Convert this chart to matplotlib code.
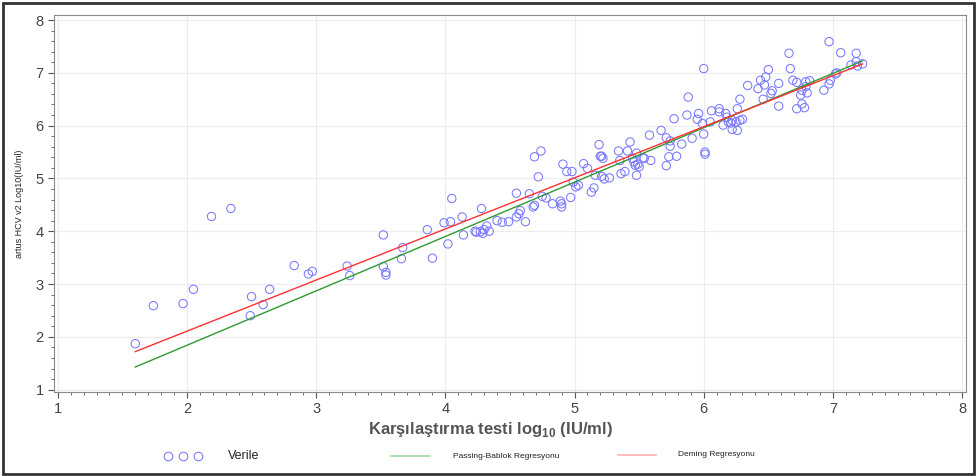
import matplotlib
matplotlib.use('Agg')
import matplotlib.pyplot as plt
from matplotlib.lines import Line2D
from matplotlib.patches import Rectangle
import numpy as np

plt.rcParams['font.family'] = ['Liberation Sans', 'DejaVu Sans']
plt.rcParams['mathtext.fontset'] = 'custom'
plt.rcParams['mathtext.rm'] = 'Liberation Sans'
plt.rcParams['mathtext.bf'] = 'Liberation Sans:bold'

# comparison test (x) vs artus HCV v2 (y), log10 IU/ml
x_low = [1.60, 1.74, 1.97, 2.05, 2.19, 2.34, 2.49, 2.50, 2.59, 2.64, 2.83, 2.94, 2.97, 3.24, 3.26,
         3.52, 3.52, 3.54, 3.54, 3.67, 3.66, 3.90, 4.02, 3.86, 4.14, 3.99, 4.04, 4.05, 4.13, 4.28,
         4.23, 4.24, 4.27, 4.29, 4.30, 4.32, 4.34, 4.40, 4.44, 4.49, 4.55, 4.65, 4.55, 4.57, 4.58, 4.62]
y_low = [1.87, 2.59, 2.63, 2.90, 4.28, 4.43, 2.40, 2.76, 2.61, 2.90, 3.35, 3.19, 3.24, 3.34, 3.16,
         3.93, 3.33, 3.22, 3.17, 3.69, 3.48, 3.49, 3.76, 4.03, 3.93, 4.16, 4.18, 4.62, 4.27, 4.43,
         4.00, 3.98, 3.99, 3.96, 4.03, 4.10, 4.00, 4.20, 4.17, 4.18, 4.72, 4.71, 4.27, 4.33, 4.39, 4.18]

x_mid = [4.69, 4.74, 4.72, 4.75, 4.78, 4.68, 4.69, 4.83, 4.89, 4.90, 4.90, 4.97, 4.91, 4.94, 4.98,
         4.99, 5.01, 5.03, 5.07, 5.10, 5.13, 5.15, 5.16, 5.19, 5.20, 5.21, 5.22, 5.21, 5.23, 5.27,
         5.34, 5.35, 5.36, 5.39, 5.43, 5.41, 5.48, 5.45, 5.46, 5.47, 5.49, 5.48, 5.50, 5.54, 5.58]
y_mid = [5.41, 5.52, 5.03, 4.66, 4.63, 4.46, 4.49, 4.52, 4.57, 4.52, 4.46, 4.64, 5.27, 5.13, 5.13,
         4.93, 4.84, 4.87, 5.28, 5.19, 4.74, 4.82, 5.06, 5.64, 5.42, 5.42, 5.38, 5.04, 4.99, 5.01,
         5.52, 5.34, 5.09, 5.13, 5.69, 5.52, 5.48, 5.38, 5.31, 5.25, 5.27, 5.06, 5.22, 5.38, 5.82]

x_upper = [6.00, 5.88, 5.77, 5.87, 5.96, 5.95, 5.99, 6.06, 6.05, 6.12, 6.12, 6.17, 6.18, 6.15, 6.19,
           6.22, 6.21, 6.25, 6.28, 6.30, 6.22, 6.26, 6.26, 6.28, 6.34, 6.42, 6.44, 6.47, 6.48, 6.46,
           5.67, 5.71, 5.74, 5.74, 5.83, 5.91, 6.00, 6.01, 6.01, 5.79, 5.73, 5.53, 5.59, 5.71]
y_upper = [7.08, 6.54, 6.13, 6.20, 6.23, 6.12, 6.04, 6.28, 6.07, 6.32, 6.26, 6.23, 6.16, 6.01, 6.07,
           6.10, 6.05, 6.07, 6.10, 6.12, 5.93, 5.91, 6.32, 6.50, 6.76, 6.70, 6.86, 6.77, 6.92, 6.50,
           5.91, 5.77, 5.71, 5.61, 5.65, 5.76, 5.84, 5.50, 5.46, 5.42, 5.41, 5.39, 5.34, 5.24]

x_top = [6.97, 7.06, 7.18, 6.66, 6.67, 6.50, 7.14, 7.18, 7.19, 7.23, 7.03, 7.02, 6.98, 6.97, 6.93,
         6.69, 6.72, 6.79, 6.82, 6.79, 6.76, 6.80, 6.75, 6.76, 6.72, 6.78, 6.58, 6.58, 6.53, 6.52]
y_top = [7.59, 7.38, 7.37, 7.37, 7.08, 7.06, 7.15, 7.21, 7.13, 7.17, 7.00, 6.98, 6.86, 6.79, 6.67,
         6.86, 6.82, 6.83, 6.85, 6.74, 6.67, 6.62, 6.58, 6.41, 6.32, 6.34, 6.37, 6.80, 6.66, 6.61]

# regression fits (intercept, slope)
pb_fit = (-0.22, 1.03)
deming_fit = (0.171, 0.968)

x_all = np.array(x_low + x_mid + x_upper + x_top)
y_all = np.array(y_low + y_mid + y_upper + y_top)

fig = plt.figure(figsize=(9.77, 4.76), dpi=100)
ax = fig.add_axes([54/977, 1 - 392/476, (966 - 54)/977, (392 - 15)/476])

ax.scatter(x_all, y_all, s=36, facecolors='none', edgecolors='#7878ff', linewidths=0.75, zorder=3)

xs = np.array([x_all.min(), x_all.max()])
ax.plot(xs, pb_fit[0] + pb_fit[1]*xs, color='#2f9a2f', linewidth=1.0, zorder=4)
ax.plot(xs, deming_fit[0] + deming_fit[1]*xs, color='#ff3030', linewidth=1.0, zorder=4)

ax.set_xlim(0.971, 8.03)
ax.set_ylim(0.955, 8.095)
ax.set_xticks(range(1, 9))
ax.set_yticks(range(1, 9))
ax.set_xticks(np.arange(1, 8.01, 0.1), minor=True)
ax.set_yticks(np.arange(1, 8.01, 0.2), minor=True)
ax.grid(True, which='major', color='#ececec', linewidth=0.8)
ax.set_axisbelow(True)
ax.tick_params(axis='both', which='major', length=4, color='#555555', labelcolor='#444444', labelsize=10.5)
ax.tick_params(axis='both', which='minor', length=2.5, color='#555555')
for sp in ax.spines.values():
    sp.set_color('#8a8a8a')

ax.set_ylabel('artus HCV v2 Log10(IU/ml)', fontsize=6.5, color='#222222', labelpad=8)
ax.set_xlabel(r'Karşılaştırma testi log$_{\mathbf{10}}$ (IU/ml)', fontsize=12, fontweight='bold',
              color='#555555')
ax.xaxis.set_label_coords((490 - 54)/912, -0.075)

# legend row
ly = 1 - 456/476
fig.add_artist(Line2D([168/977, 183/977, 198/977], [ly, ly, ly], transform=fig.transFigure,
                      linestyle='none', marker='o', markersize=6.2, markerfacecolor='none',
                      markeredgecolor='#7878ff', markeredgewidth=0.75))
fig.text(228/977, ly, 'Verile', fontsize=9, color='#222222', va='center')
fig.add_artist(Line2D([391/977, 430/977], [ly, ly], transform=fig.transFigure,
                      color='#9fd89f', linewidth=1.2))
fig.text(453/977, ly, 'Passing-Bablok Regresyonu', fontsize=6, color='#222222', va='center')
fig.add_artist(Line2D([618/977, 656/977], [ly + 0.002, ly + 0.002], transform=fig.transFigure,
                      color='#ffb0b0', linewidth=1.2))
fig.text(678/977, ly + 0.004, 'Deming Regresyonu', fontsize=6, color='#222222', va='center')

# outer frame
fig.add_artist(Rectangle((3/977, 2/476), 971/977, 471/476, transform=fig.transFigure,
                         fill=False, edgecolor='#333333', linewidth=2))

fig.savefig('out.png', dpi=100)
